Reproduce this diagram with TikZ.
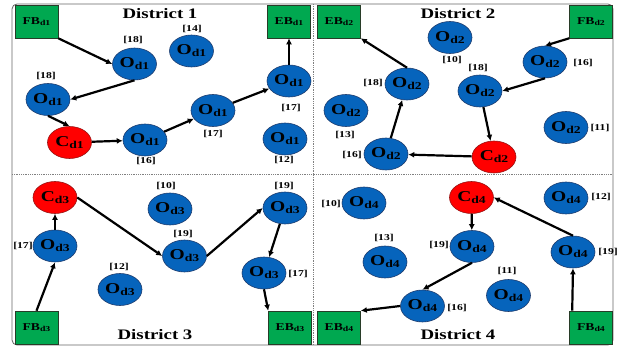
\documentclass[tikz,border=0pt]{standalone}
\usepackage{fontspec}
\setmainfont{Liberation Serif}[FakeStretch=1.3]
\usetikzlibrary{arrows.meta,shapes.geometric}
\definecolor{oblue}{RGB}{6,100,188}
\definecolor{oedge}{RGB}{30,60,110}
\definecolor{cred}{RGB}{255,0,0}
\definecolor{credge}{RGB}{150,20,20}
\definecolor{bgreen}{RGB}{0,168,80}
\definecolor{bedge}{RGB}{40,60,40}
\newcommand{\onm}[2]{#1\raisebox{-2pt}{\fontsize{10.5}{10.5}\selectfont #2}}
\newcommand{\bnm}[2]{#1\raisebox{-1.5pt}{\fontsize{7.5}{7.5}\selectfont #2}}
\tikzset{
  onode/.style={ellipse, draw=oedge, line width=0.6pt, fill=oblue, minimum width=44pt, minimum height=32pt, inner sep=0pt, font=\bfseries\fontsize{15}{15}\selectfont},
  cnode/.style={onode, fill=cred, draw=credge},
  bnode/.style={rectangle, draw=bedge, line width=0.6pt, fill=bgreen, minimum width=43pt, minimum height=33pt, inner sep=0pt, font=\bfseries\fontsize{10.5}{10.5}\selectfont},
  lab/.style={inner sep=0pt, font=\bfseries\fontsize{9}{9}\selectfont},
  ttl/.style={inner sep=0pt, font=\bfseries\fontsize{14.5}{15}\selectfont},
  arr/.style={draw=black, line width=2.2pt, -{Latex[length=6pt,width=6pt]}}
}
\begin{document}
\begin{tikzpicture}[x=1pt,y=-1pt]
\useasboundingbox (0,0) rectangle (622,347);
\fill[white] (0,0) rectangle (622,347);
% frame
\draw[gray!80!black, line width=0.8pt, rounded corners=5pt] (12,4) rectangle (613,345);
\draw[gray, line width=0.8pt, densely dotted] (313,4) -- (313,345);
\draw[gray, line width=0.8pt, densely dotted] (12,174) -- (613,174);
% titles
\node[ttl] (t1) at (160,14) {District 1};
\node[ttl] (t2) at (458,14) {District 2};
\node[ttl] (t3) at (155,335) {District 3};
\node[ttl] (t4) at (458,335) {District 4};
% ---------- District 1
\node[bnode] (fb1) at (36.5,21.5) {\bnm{FB}{d1}};
\node[bnode] (eb1) at (289,21.5) {\bnm{EB}{d1}};
\node[onode] (o1a) at (134.5,64) {\onm{O}{d1}};
\node[onode] (o1b) at (48,99.5) {\onm{O}{d1}};
\node[cnode] (c1) at (69.5,142.5) {\onm{C}{d1}};
\node[onode] (o1c) at (145,140) {\onm{O}{d1}};
\node[onode] (o1d) at (213,110.5) {\onm{O}{d1}};
\node[onode] (o1e) at (289,81) {\onm{O}{d1}};
\node[onode] (o1f) at (191.5,51) {\onm{O}{d1}};
\node[onode] (o1g) at (285,139) {\onm{O}{d1}};
\node[lab] (l1a) at (133,40) {[18]};
\node[lab] (l1b) at (46,76) {[18]};
\node[lab] (l1c) at (146,161) {[16]};
\node[lab] (l1d) at (213,134) {[17]};
\node[lab] (l1e) at (291,108) {[17]};
\node[lab] (l1f) at (192,29) {[14]};
\node[lab] (l1g) at (284,160) {[12]};
\draw[arr] (fb1.south east) -- (o1a.west);
\draw[arr] (o1a.south) -- (o1b.east);
\draw[arr] (o1b.south) -- (c1.north);
\draw[arr] (c1) -- (o1c);
\draw[arr] (o1c) -- (o1d);
\draw[arr] (o1d) -- (o1e);
\draw[arr] (o1e) -- (eb1);
% ---------- District 2
\node[bnode] (eb2) at (339,21.5) {\bnm{EB}{d2}};
\node[bnode] (fb2) at (591,21.5) {\bnm{FB}{d2}};
\node[onode] (o2a) at (545,62) {\onm{O}{d2}};
\node[onode] (o2b) at (480,91) {\onm{O}{d2}};
\node[cnode] (c2) at (494,157) {\onm{C}{d2}};
\node[onode] (o2c) at (386,154) {\onm{O}{d2}};
\node[onode] (o2d) at (407,84) {\onm{O}{d2}};
\node[onode] (o2e) at (450,37.5) {\onm{O}{d2}};
\node[onode] (o2f) at (346,110.5) {\onm{O}{d2}};
\node[onode] (o2g) at (566,127.5) {\onm{O}{d2}};
\node[lab] (l2a) at (583,63) {[16]};
\node[lab] (l2b) at (478,68) {[18]};
\node[lab] (l2c) at (352,155) {[16]};
\node[lab] (l2d) at (373,83) {[18]};
\node[lab] (l2e) at (452,60) {[10]};
\node[lab] (l2f) at (345,135) {[13]};
\node[lab] (l2g) at (600,128) {[11]};
\draw[arr] (fb2.south west) -- (o2a.north);
\draw[arr] (o2a.south) -- (o2b.east);
\draw[arr] (o2b) -- (c2);
\draw[arr] (c2) -- (o2c);
\draw[arr] (o2c) -- (o2d);
\draw[arr] (o2d.north) -- (eb2.south east);
% ---------- District 3
\node[bnode] (fb3) at (36.5,327.5) {\bnm{FB}{d3}};
\node[bnode] (eb3) at (290,327.5) {\bnm{EB}{d3}};
\node[cnode] (c3) at (55,197.5) {\onm{C}{d3}};
\node[onode] (o3a) at (55,246) {\onm{O}{d3}};
\node[onode] (o3b) at (184.5,256) {\onm{O}{d3}};
\node[onode] (o3c) at (285,208) {\onm{O}{d3}};
\node[onode] (o3d) at (264,273) {\onm{O}{d3}};
\node[onode] (o3e) at (170,209) {\onm{O}{d3}};
\node[onode] (o3f) at (120,289.5) {\onm{O}{d3}};
\node[lab] (l3a) at (23,246) {[17]};
\node[lab] (l3b) at (183,234) {[19]};
\node[lab] (l3c) at (284,186) {[19]};
\node[lab] (l3d) at (298,274) {[17]};
\node[lab] (l3e) at (166,186) {[10]};
\node[lab] (l3f) at (119,267) {[12]};
\draw[arr] (fb3.north) -- (o3a.south);
\draw[arr] (o3a) -- (c3);
\draw[arr] (c3.east) -- (o3b.west);
\draw[arr] (o3b.east) -- (o3c.west);
\draw[arr] (o3c) -- (o3d);
\draw[arr] (o3d.south) -- (eb3.north west);
% ---------- District 4
\node[bnode] (eb4) at (339,327.5) {\bnm{EB}{d4}};
\node[bnode] (fb4) at (591,327.5) {\bnm{FB}{d4}};
\node[cnode] (c4) at (471.5,197.5) {\onm{C}{d4}};
\node[onode] (o4a) at (573,252) {\onm{O}{d4}};
\node[onode] (o4b) at (472,246.5) {\onm{O}{d4}};
\node[onode] (o4c) at (422.5,306) {\onm{O}{d4}};
\node[onode] (o4d) at (364,203) {\onm{O}{d4}};
\node[onode] (o4e) at (385,262) {\onm{O}{d4}};
\node[onode] (o4f) at (566,198) {\onm{O}{d4}};
\node[onode] (o4g) at (508.5,295.5) {\onm{O}{d4}};
\node[lab] (l4a) at (608,252) {[19]};
\node[lab] (l4b) at (439,245) {[19]};
\node[lab] (l4c) at (457,308) {[16]};
\node[lab] (l4d) at (331,204) {[10]};
\node[lab] (l4e) at (384,238) {[13]};
\node[lab] (l4f) at (601,197) {[12]};
\node[lab] (l4g) at (507,271) {[11]};
\draw[arr] ([xshift=3pt]fb4.north west) -- (o4a.south);
\draw[arr] (o4a.north) -- (c4.east);
\draw[arr] (c4) -- (o4b);
\draw[arr] (o4b.south) -- (o4c.north);
\draw[arr] (o4c.west) -- (eb4.north east);
\end{tikzpicture}
\end{document}
